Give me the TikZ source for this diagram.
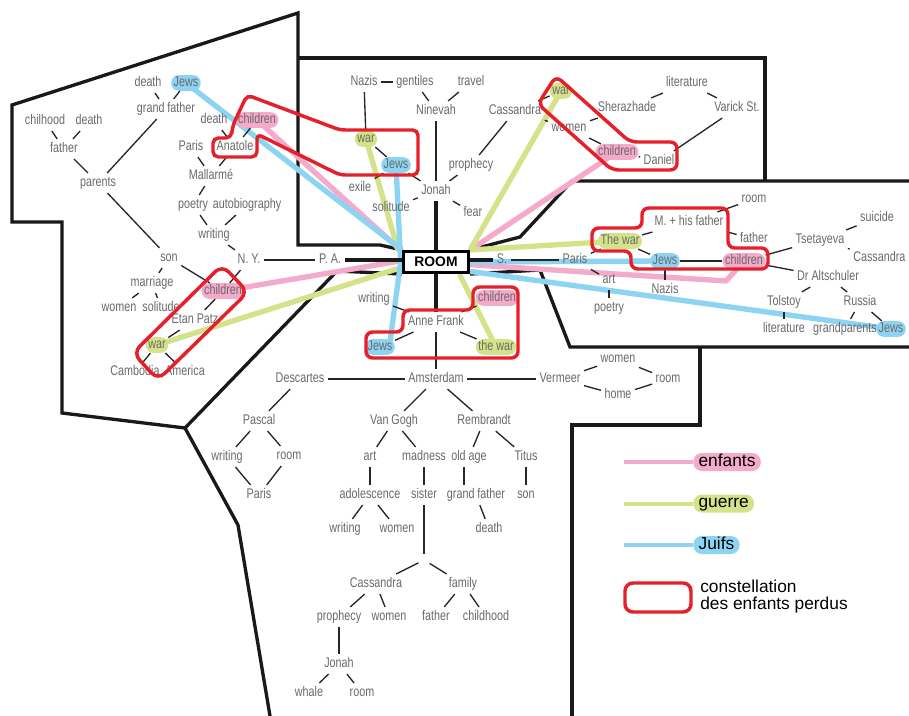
\documentclass[tikz,border=0pt]{standalone}
\usepackage{fontspec}
\setmainfont{Liberation Sans}
\newfontfamily\condfont[FakeStretch=0.77]{Liberation Sans}
\usetikzlibrary{backgrounds}

\definecolor{kidpink}{HTML}{F3AACB}
\definecolor{wargreen}{HTML}{D4E38A}
\definecolor{jewblue}{HTML}{8DD4F2}
\definecolor{lostred}{HTML}{E5202A}
\definecolor{wordgray}{HTML}{6A6A6A}

\tikzset{
  word/.style={font=\condfont\fontsize{10.5}{12}\selectfont, text=wordgray,
    inner sep=2.5pt, text height=7.6pt, text depth=2.1pt},
  pill/.style={word, rounded corners=5.5pt, inner xsep=1.8pt, inner ysep=1pt},
  kidpill/.style={pill, fill=kidpink},
  warpill/.style={pill, fill=wargreen},
  jewpill/.style={pill, fill=jewblue},
  roombox/.style={draw, line width=2.3pt, fill=white, inner sep=0pt,
    font=\bfseries\fontsize{10.4}{12}\selectfont,
    minimum width=48.75pt, minimum height=15.75pt},
  link/.style={line width=1pt, black!85},
  roomlink/.style={line width=2.5pt, black!90},
  wall/.style={line width=2.5pt, black!90, line join=miter},
  kidline/.style={line width=4pt, kidpink, line join=round},
  warline/.style={line width=4pt, wargreen, line join=round},
  jewline/.style={line width=4pt, jewblue, line join=round},
  lost/.style={line width=2.6pt, lostred, rounded corners=4pt},
  keypill/.style={font=\fontsize{13}{15}\selectfont, text=black, rounded corners=6.5pt,
    inner xsep=4pt, inner ysep=0pt, minimum height=13.5pt, text height=9pt, text depth=2.6pt}
}

\begin{document}
\begin{tikzpicture}[x=0.75pt, y=-0.75pt]

\useasboundingbox (0,0) rectangle (909,716);

\node [word] (l-death1) at (148,83) {death};
\node [jewpill] (l-jews) at (186,83) {Jews};
\node [word] (l-grandfather) at (166,109) {grand father};
\node [word] (l-chilhood) at (45,121) {chilhood};
\node [word] (l-death2) at (89,121) {death};
\node [word] (l-father) at (64,149) {father};
\node [word] (l-parents) at (98,183) {parents};
\node [word] (l-death3) at (214,120) {death};
\node [kidpill] (l-children1) at (257,120) {children};
\node [word] (l-paris) at (191,147) {Paris};
\node [word] (l-anatole) at (235,147) {Anatole};
\node [word] (l-mallarme) at (211,176) {Mallarmé};
\node [word] (l-poetry) at (193,205) {poetry};
\node [word] (l-autobio) at (247,205) {autobiography};
\node [word] (l-writing) at (214,235) {writing};
\node [word] (l-ny) at (249,260) {N. Y.};
\node [word] (l-pa) at (330,260) {P. A.};
\node [word] (l-son) at (169,258) {son};
\node [word] (l-marriage) at (152,283) {marriage};
\node [word] (l-women) at (119,308) {women};
\node [word] (l-solitude) at (161,308) {solitude};
\node [kidpill] (l-children2) at (223,291) {children};
\node [word] (l-etan) at (195,320) {Etan Patz};
\node [warpill] (l-war) at (157,345) {war};
\node [word] (l-cambodia) at (135,372) {Cambodia};
\node [word] (l-america) at (185,372) {America};

\node [roombox] (room) at (436,262) {ROOM};

\node [word] (t-nazis) at (364,82) {Nazis};
\node [word] (t-gentiles) at (415,82) {gentiles};
\node [word] (t-travel) at (471,82) {travel};
\node [word] (t-ninevah) at (436,111) {Ninevah};
\node [word] (t-cassandra) at (515,111) {Cassandra};
\node [warpill] (t-war1) at (366,139) {war};
\node [jewpill] (t-jews) at (396,165) {Jews};
\node [word] (t-prophecy) at (471,165) {prophecy};
\node [word] (t-exile) at (360,188) {exile};
\node [word] (t-jonah) at (436,191) {Jonah};
\node [word] (t-solitude) at (391,208) {solitude};
\node [word] (t-fear) at (473,213) {fear};
\node [warpill] (t-war2) at (561,91) {war};
\node [word] (t-women) at (569,128) {women};
\node [word] (t-sherazhade) at (627,108) {Sherazhade};
\node [word] (t-literature) at (687,83) {literature};
\node [word] (t-varick) at (737,108) {Varick St.};
\node [kidpill] (t-children) at (617,152) {children};
\node [word] (t-daniel) at (659,161) {Daniel};

\node [word] (r-s) at (502,260) {S.};
\node [word] (r-paris) at (575,260) {Paris};
\node [warpill] (r-thewar) at (620,241) {The war};
\node [word] (r-mfather) at (689,222) {M. + his father};
\node [word] (r-room) at (754,199) {room};
\node [word] (r-father) at (754,239) {father};
\node [jewpill] (r-jews1) at (665,261) {Jews};
\node [kidpill] (r-children) at (744,261) {children};
\node [word] (r-art) at (609,280) {art};
\node [word] (r-nazis) at (665,290) {Nazis};
\node [word] (r-poetry) at (609,308) {poetry};
\node [word] (r-tsetayeva) at (820,240) {Tsetayeva};
\node [word] (r-suicide) at (877,218) {suicide};
\node [word, anchor=east] (r-cassandra) at (909,258) {Cassandra};
\node [word] (r-altschuler) at (828,277) {Dr Altschuler};
\node [word] (r-tolstoy) at (784,302) {Tolstoy};
\node [word] (r-russia) at (860,302) {Russia};
\node [word] (r-literature) at (784,329) {literature};
\node [word] (r-grandparents) at (845,329) {grandparents};
\node [jewpill] (r-jews2) at (891,329) {Jews};

\node [word] (b-writing) at (374,299) {writing};
\node [kidpill] (b-children) at (497,298) {children};
\node [word] (b-anne) at (436,322) {Anne Frank};
\node [jewpill] (b-jews) at (380,347) {Jews};
\node [warpill] (b-thewar) at (496,347) {the war};

\node [word] (a-descartes) at (300,379) {Descartes};
\node [word] (a-amsterdam) at (436,379) {Amsterdam};
\node [word] (a-vermeer) at (560,379) {Vermeer};
\node [word] (a-women1) at (618,359) {women};
\node [word] (a-home) at (618,395) {home};
\node [word] (a-room1) at (668,379) {room};
\node [word] (a-pascal) at (259,421) {Pascal};
\node [word] (a-vangogh) at (394,421) {Van Gogh};
\node [word] (a-rembrandt) at (484,421) {Rembrandt};
\node [word] (a-writing1) at (227,457) {writing};
\node [word] (a-room2) at (289,456) {room};
\node [word] (a-art) at (370,457) {art};
\node [word] (a-madness) at (424,457) {madness};
\node [word] (a-oldage) at (469,457) {old age};
\node [word] (a-titus) at (526,457) {Titus};
\node [word] (a-paris) at (259,495) {Paris};
\node [word] (a-adolescence) at (370,495) {adolescence};
\node [word] (a-sister) at (424,495) {sister};
\node [word] (a-grandfather) at (476,495) {grand father};
\node [word] (a-son) at (526,495) {son};
\node [word] (a-writing2) at (345,529) {writing};
\node [word] (a-women2) at (397,529) {women};
\node [word] (a-death) at (489,529) {death};
\node [inner sep=4pt] (a-fork) at (424,560) {};
\node [word] (a-cassandra) at (376,584) {Cassandra};
\node [word] (a-family) at (463,584) {family};
\node [word] (a-prophecy) at (339,617) {prophecy};
\node [word] (a-women3) at (389,617) {women};
\node [word] (a-father) at (436,617) {father};
\node [word] (a-childhood) at (486,617) {childhood};
\node [word] (a-jonah) at (339,664) {Jonah};
\node [word] (a-whale) at (309,693) {whale};
\node [word] (a-room3) at (362,693) {room};

\begin{scope}[on background layer]
  \fill [white] (0,0) rectangle (909,716);
  \draw [wall] (room.north west) -- (380,245) -- (298,245) -- (298,13) -- (12,105)
    -- (12,222) -- (62,222) -- (62,413) -- (185,428) -- (337,271) -- (room.south west);
  \draw [wall] (185,428) -- (238,525) -- (270,716);
  \draw [wall] (298,58) -- (765,58) -- (765,181);
  \draw [wall] (room.north east) -- (520,237) -- (572,181) -- (909,181);
  \draw [wall] (room.south east) -- (540,270) -- (570,347) -- (909,347);
  \draw [wall] (700,347) -- (700,425) -- (572,425) -- (572,716);

  \coordinate (kink) at (726,281);
  \draw [kidline] (l-children1.center) -- ([yshift=-1pt]room.north west);
  \draw [kidline] (l-children2.center) -- ([yshift=1pt]room.west);
  \draw [kidline] (t-children.center) -- (room.north east);
  \draw [kidline] ([yshift=-2pt]room.east) -- (kink) -- (r-children.center);
  \draw [warline] (l-war.center) -- ([yshift=-4pt]room.west);
  \draw [warline] (t-war1.center) -- ([xshift=-3pt]room.north west);
  \draw [warline] (t-war2.center) -- (room.north east) -- (r-thewar.center);
  \draw [warline] ([xshift=-8pt]room.south east) -- (b-thewar.center);
  \draw [jewline] (l-jews.center) -- (room.north west);
  \draw [jewline] (t-jews.center) -- ([xshift=-1pt]room.west) -- ([xshift=7pt]b-jews.center);
  \draw [jewline] (room.east) -- (r-jews1.center);
  \draw [jewline] ([yshift=2pt]room.south east) -- (r-jews2.center);
\end{scope}

\foreach \a/\b in {l-death1/l-grandfather, l-jews/l-grandfather, l-grandfather/l-parents,
    l-chilhood/l-father, l-death2/l-father, l-father/l-parents, l-parents/l-son,
    l-son/l-marriage, l-son/l-children2, l-marriage/l-women, l-marriage/l-solitude,
    l-death3/l-anatole, l-children1/l-anatole, l-paris/l-mallarme, l-anatole/l-mallarme,
    l-mallarme/l-poetry, l-poetry/l-writing, l-autobio/l-writing, l-writing/l-ny,
    l-ny/l-pa, l-ny/l-children2, l-children2/l-etan, l-etan/l-war, l-war/l-cambodia,
    l-war/l-america}
  \draw [link] (\a) -- (\b);

\foreach \a/\b in {t-nazis/t-gentiles, t-nazis/t-war1, t-gentiles/t-ninevah,
    t-travel/t-ninevah, t-ninevah/t-jonah, t-war1/t-jews, t-jews/t-exile, t-jews/t-jonah,
    t-solitude/t-jonah, t-jonah/t-prophecy, t-prophecy/t-cassandra, t-jonah/t-fear,
    t-cassandra/t-war2, t-cassandra/t-women, t-women/t-sherazhade, t-women/t-children,
    t-children/t-daniel, t-sherazhade/t-literature, t-literature/t-varick,
    t-varick/t-daniel}
  \draw [link] (\a) -- (\b);

\foreach \a/\b in {r-s/r-paris, r-paris/r-thewar, r-paris/r-art, r-art/r-poetry,
    r-thewar/r-mfather, r-thewar/r-jews1, r-jews1/r-nazis, r-jews1/r-children,
    r-mfather/r-room, r-mfather/r-father, r-children/r-tsetayeva,
    r-children/r-altschuler, r-tsetayeva/r-suicide, r-tsetayeva/r-cassandra,
    r-altschuler/r-tolstoy, r-altschuler/r-russia, r-tolstoy/r-literature,
    r-russia/r-grandparents, r-russia/r-jews2}
  \draw [link] (\a) -- (\b);

\foreach \a/\b in {b-writing/b-anne, b-children/b-anne, b-jews/b-anne, b-thewar/b-anne,
    b-anne/a-amsterdam, a-descartes/a-amsterdam, a-amsterdam/a-vermeer,
    a-vermeer/a-women1, a-vermeer/a-home, a-women1/a-room1, a-home/a-room1,
    a-descartes/a-pascal, a-pascal/a-writing1, a-pascal/a-room2, a-writing1/a-paris,
    a-room2/a-paris, a-amsterdam/a-vangogh, a-amsterdam/a-rembrandt, a-vangogh/a-art,
    a-vangogh/a-madness, a-art/a-adolescence, a-madness/a-sister,
    a-adolescence/a-writing2, a-adolescence/a-women2, a-rembrandt/a-oldage,
    a-rembrandt/a-titus, a-titus/a-son, a-grandfather/a-death, a-sister/a-fork,
    a-fork/a-cassandra, a-fork/a-family, a-cassandra/a-prophecy, a-cassandra/a-women3,
    a-family/a-father, a-family/a-childhood, a-prophecy/a-jonah, a-jonah/a-whale,
    a-jonah/a-room3}
  \draw [link] (\a) -- (\b);

\draw [link] ([xshift=-3.75pt]a-oldage.south) -- ([xshift=-3.75pt]a-oldage.south |- a-grandfather.north);

\draw [roomlink] (l-pa) -- (l-pa -| room.west);
\draw [roomlink] (r-s) -- (r-s -| room.east);
\draw [roomlink] (t-jonah) -- (t-jonah |- room.north);
\draw [roomlink] (room.south) -- (b-anne);

\draw [lost] (213,138) -- (213,157) -- (257,157) -- (257,134) -- (340,175) -- (418,175)
  -- (418,130) -- (340,130) -- (247,95) -- (233,125) -- (231,138) -- cycle;
\draw [lost, rounded corners=7pt] (222,265) -- (248,292) -- (158,380) -- (133,353) -- cycle;
\draw [lost, rounded corners=5pt] (538,104) -- (556,76) -- (630,142) -- (677,142)
  -- (677,170) -- (612,170) -- cycle;
\draw [lost, rounded corners=5pt] (592,228) -- (642,228) -- (642,208) -- (728,208)
  -- (728,248) -- (768,248) -- (768,269) -- (631,269) -- (631,251) -- (592,251) -- cycle;
\draw [lost, rounded corners=5pt] (403,310) -- (473,310) -- (473,287) -- (518,287)
  -- (518,358) -- (366,358) -- (366,332) -- (403,332) -- cycle;

\foreach \l/\c [count=\i] in {enfants/kidpink, guerre/wargreen, Juifs/jewblue} {
  \node [keypill, fill=\c, anchor=west] (key-\i) at (693,420.5+\i*41.5) {\l};
  \coordinate (keystart-\i) at (624,420.5+\i*41.5);
  \draw [line width=3pt, \c] (keystart-\i) -- (key-\i.west);
}

\draw [lost, rounded corners=6pt] (625,583) rectangle (691,612);
\node [font=\fontsize{13}{12.75}\selectfont, align=left, anchor=west, inner sep=0pt]
  (key-lost) at (700,597) {constellation\\des enfants perdus};

\end{tikzpicture}
\end{document}
